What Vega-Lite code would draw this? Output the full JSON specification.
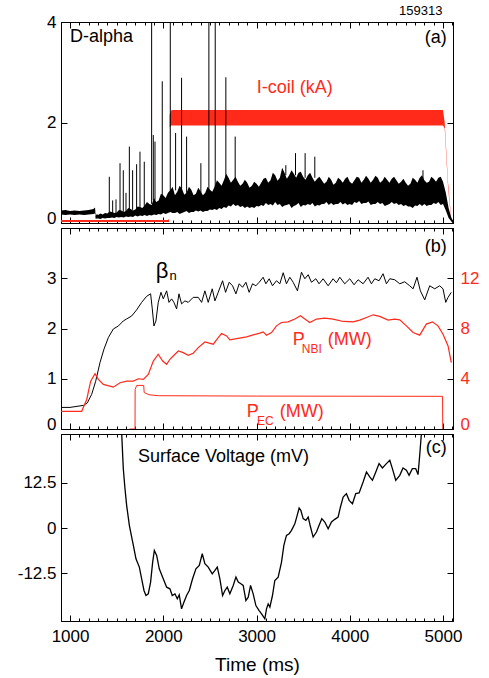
{
  "$schema": "https://vega.github.io/schema/vega-lite/v6.json",
  "padding": {"left": 16, "top": 4, "right": 8, "bottom": 6},
  "config": {
    "font": "Liberation Sans",
    "view": {"stroke": "#000", "strokeWidth": 1},
    "axis": {"grid": false, "domainColor": "#000", "tickColor": "#000", "labelColor": "#000", "labelFontSize": 17, "titleFontWeight": "normal", "domainWidth": 1, "tickWidth": 1, "labelOverlap": false, "labelBound": false},
    "concat": {"spacing": 0}
  },
  "datasets": {
    "icoil": [
      {"t": 903, "lo": 0.02, "hi": 0.06}, {"t": 2050, "lo": 0.02, "hi": 0.06}, {"t": 2062, "lo": 0.02, "hi": 0.08},
      {"t": 2068, "lo": 1.9, "hi": 2.15}, {"t": 2080, "lo": 1.94, "hi": 2.22}, {"t": 2090, "lo": 1.94, "hi": 2.25},
      {"t": 5000, "lo": 1.94, "hi": 2.25}, {"t": 5018, "lo": 1.88, "hi": 2.0}, {"t": 5054, "lo": 0.7, "hi": 0.8},
      {"t": 5089, "lo": 0.03, "hi": 0.07}, {"t": 5107, "lo": 0.0, "hi": 0.03}
    ],
    "dalpha": [
      {"t": 903, "lo": 0.17, "hi": 0.25}, {"t": 950, "lo": 0.16, "hi": 0.26}, {"t": 1000, "lo": 0.17, "hi": 0.24},
      {"t": 1050, "lo": 0.16, "hi": 0.25}, {"t": 1100, "lo": 0.17, "hi": 0.24}, {"t": 1150, "lo": 0.16, "hi": 0.25},
      {"t": 1200, "lo": 0.17, "hi": 0.26}, {"t": 1250, "lo": 0.18, "hi": 0.28}, {"t": 1268, "lo": 0.19, "hi": 0.31},
      {"t": 1275, "lo": 0.08, "hi": 0.14}, {"t": 1300, "lo": 0.09, "hi": 0.16}, {"t": 1350, "lo": 0.1, "hi": 0.17},
      {"t": 1400, "lo": 0.1, "hi": 0.19}, {"t": 1450, "lo": 0.11, "hi": 0.22}, {"t": 1500, "lo": 0.12, "hi": 0.21},
      {"t": 1550, "lo": 0.12, "hi": 0.25}, {"t": 1600, "lo": 0.13, "hi": 0.24}, {"t": 1650, "lo": 0.13, "hi": 0.28},
      {"t": 1700, "lo": 0.15, "hi": 0.27}, {"t": 1750, "lo": 0.15, "hi": 0.32}, {"t": 1800, "lo": 0.16, "hi": 0.35},
      {"t": 1850, "lo": 0.16, "hi": 0.38}, {"t": 1900, "lo": 0.17, "hi": 0.5}, {"t": 1950, "lo": 0.18, "hi": 0.45},
      {"t": 2000, "lo": 0.2, "hi": 0.55}, {"t": 2050, "lo": 0.2, "hi": 0.6}, {"t": 2100, "lo": 0.2, "hi": 0.72},
      {"t": 2150, "lo": 0.22, "hi": 0.62}, {"t": 2200, "lo": 0.2, "hi": 0.68}, {"t": 2250, "lo": 0.24, "hi": 0.6},
      {"t": 2300, "lo": 0.22, "hi": 0.66}, {"t": 2350, "lo": 0.25, "hi": 0.58}, {"t": 2400, "lo": 0.25, "hi": 0.63},
      {"t": 2450, "lo": 0.24, "hi": 0.6}, {"t": 2500, "lo": 0.27, "hi": 0.66}, {"t": 2550, "lo": 0.28, "hi": 0.72},
      {"t": 2600, "lo": 0.3, "hi": 0.8}, {"t": 2650, "lo": 0.32, "hi": 0.85}, {"t": 2700, "lo": 0.35, "hi": 0.9},
      {"t": 2750, "lo": 0.38, "hi": 0.86}, {"t": 2800, "lo": 0.36, "hi": 0.82}, {"t": 2850, "lo": 0.34, "hi": 0.78},
      {"t": 2900, "lo": 0.33, "hi": 0.8}, {"t": 2950, "lo": 0.32, "hi": 0.74}, {"t": 3000, "lo": 0.34, "hi": 0.78},
      {"t": 3050, "lo": 0.36, "hi": 0.8}, {"t": 3100, "lo": 0.4, "hi": 0.9}, {"t": 3150, "lo": 0.38, "hi": 0.85},
      {"t": 3200, "lo": 0.42, "hi": 0.95}, {"t": 3250, "lo": 0.38, "hi": 0.9}, {"t": 3300, "lo": 0.35, "hi": 1.0},
      {"t": 3350, "lo": 0.38, "hi": 0.95}, {"t": 3400, "lo": 0.34, "hi": 0.98}, {"t": 3450, "lo": 0.4, "hi": 1.0},
      {"t": 3500, "lo": 0.36, "hi": 0.92}, {"t": 3550, "lo": 0.38, "hi": 0.95}, {"t": 3600, "lo": 0.4, "hi": 0.9},
      {"t": 3650, "lo": 0.36, "hi": 0.88}, {"t": 3700, "lo": 0.38, "hi": 0.85}, {"t": 3750, "lo": 0.42, "hi": 0.82},
      {"t": 3800, "lo": 0.4, "hi": 0.86}, {"t": 3850, "lo": 0.38, "hi": 0.8}, {"t": 3900, "lo": 0.42, "hi": 0.86},
      {"t": 3950, "lo": 0.4, "hi": 0.88}, {"t": 4000, "lo": 0.38, "hi": 0.82}, {"t": 4050, "lo": 0.42, "hi": 0.85},
      {"t": 4100, "lo": 0.44, "hi": 0.9}, {"t": 4150, "lo": 0.4, "hi": 0.86}, {"t": 4200, "lo": 0.43, "hi": 0.88},
      {"t": 4250, "lo": 0.38, "hi": 0.86}, {"t": 4300, "lo": 0.42, "hi": 0.9}, {"t": 4350, "lo": 0.4, "hi": 0.84},
      {"t": 4400, "lo": 0.36, "hi": 0.86}, {"t": 4450, "lo": 0.42, "hi": 0.88}, {"t": 4500, "lo": 0.4, "hi": 0.85},
      {"t": 4550, "lo": 0.38, "hi": 0.82}, {"t": 4600, "lo": 0.36, "hi": 0.8}, {"t": 4650, "lo": 0.33, "hi": 0.78},
      {"t": 4700, "lo": 0.35, "hi": 0.86}, {"t": 4750, "lo": 0.38, "hi": 0.9}, {"t": 4800, "lo": 0.38, "hi": 0.85},
      {"t": 4850, "lo": 0.36, "hi": 0.82}, {"t": 4900, "lo": 0.4, "hi": 0.88}, {"t": 4950, "lo": 0.42, "hi": 0.9},
      {"t": 5000, "lo": 0.38, "hi": 0.82}, {"t": 5030, "lo": 0.25, "hi": 0.6}, {"t": 5060, "lo": 0.1, "hi": 0.3},
      {"t": 5090, "lo": 0.03, "hi": 0.1}, {"t": 5107, "lo": 0.0, "hi": 0.05},
      {"t": 1287, "lo": 0.09, "hi": 0.18}, {"t": 1325, "lo": 0.08, "hi": 0.19}, {"t": 1375, "lo": 0.09, "hi": 0.2},
      {"t": 1425, "lo": 0.1, "hi": 0.23}, {"t": 1475, "lo": 0.1, "hi": 0.2}, {"t": 1525, "lo": 0.11, "hi": 0.26},
      {"t": 1575, "lo": 0.11, "hi": 0.22}, {"t": 1625, "lo": 0.12, "hi": 0.3}, {"t": 1675, "lo": 0.12, "hi": 0.25},
      {"t": 1725, "lo": 0.13, "hi": 0.33}, {"t": 1775, "lo": 0.14, "hi": 0.3}, {"t": 1825, "lo": 0.14, "hi": 0.42},
      {"t": 1875, "lo": 0.15, "hi": 0.36}, {"t": 1925, "lo": 0.16, "hi": 0.42}, {"t": 1975, "lo": 0.17, "hi": 0.58},
      {"t": 2025, "lo": 0.18, "hi": 0.5}, {"t": 2075, "lo": 0.22, "hi": 0.65}, {"t": 2125, "lo": 0.2, "hi": 0.55},
      {"t": 2175, "lo": 0.18, "hi": 0.74}, {"t": 2225, "lo": 0.22, "hi": 0.56}, {"t": 2275, "lo": 0.2, "hi": 0.72},
      {"t": 2325, "lo": 0.22, "hi": 0.55}, {"t": 2375, "lo": 0.23, "hi": 0.7}, {"t": 2425, "lo": 0.22, "hi": 0.55},
      {"t": 2475, "lo": 0.24, "hi": 0.72}, {"t": 2525, "lo": 0.26, "hi": 0.62}, {"t": 2575, "lo": 0.26, "hi": 0.85},
      {"t": 2625, "lo": 0.28, "hi": 0.74}, {"t": 2675, "lo": 0.3, "hi": 0.98}, {"t": 2725, "lo": 0.33, "hi": 0.8},
      {"t": 2775, "lo": 0.34, "hi": 0.92}, {"t": 2825, "lo": 0.32, "hi": 0.74}, {"t": 2875, "lo": 0.3, "hi": 0.86},
      {"t": 2925, "lo": 0.3, "hi": 0.7}, {"t": 2975, "lo": 0.3, "hi": 0.82}, {"t": 3025, "lo": 0.33, "hi": 0.72},
      {"t": 3075, "lo": 0.34, "hi": 0.88}, {"t": 3125, "lo": 0.36, "hi": 0.8}, {"t": 3175, "lo": 0.35, "hi": 1.0},
      {"t": 3225, "lo": 0.36, "hi": 0.84}, {"t": 3275, "lo": 0.32, "hi": 1.1}, {"t": 3325, "lo": 0.36, "hi": 0.88},
      {"t": 3375, "lo": 0.3, "hi": 1.05}, {"t": 3425, "lo": 0.36, "hi": 0.9}, {"t": 3475, "lo": 0.32, "hi": 1.02},
      {"t": 3525, "lo": 0.35, "hi": 0.86}, {"t": 3575, "lo": 0.36, "hi": 1.0}, {"t": 3625, "lo": 0.33, "hi": 0.82},
      {"t": 3675, "lo": 0.35, "hi": 0.92}, {"t": 3725, "lo": 0.38, "hi": 0.78}, {"t": 3775, "lo": 0.36, "hi": 0.92},
      {"t": 3825, "lo": 0.36, "hi": 0.76}, {"t": 3875, "lo": 0.38, "hi": 0.9}, {"t": 3925, "lo": 0.37, "hi": 0.8},
      {"t": 3975, "lo": 0.36, "hi": 0.92}, {"t": 4025, "lo": 0.36, "hi": 0.78}, {"t": 4075, "lo": 0.4, "hi": 0.92},
      {"t": 4125, "lo": 0.38, "hi": 0.8}, {"t": 4175, "lo": 0.4, "hi": 0.94}, {"t": 4225, "lo": 0.36, "hi": 0.8},
      {"t": 4275, "lo": 0.38, "hi": 0.94}, {"t": 4325, "lo": 0.38, "hi": 0.8}, {"t": 4375, "lo": 0.34, "hi": 0.92},
      {"t": 4425, "lo": 0.38, "hi": 0.8}, {"t": 4475, "lo": 0.38, "hi": 0.92}, {"t": 4525, "lo": 0.36, "hi": 0.78},
      {"t": 4575, "lo": 0.34, "hi": 0.88}, {"t": 4625, "lo": 0.33, "hi": 0.74}, {"t": 4675, "lo": 0.3, "hi": 0.9},
      {"t": 4725, "lo": 0.34, "hi": 0.8}, {"t": 4775, "lo": 0.34, "hi": 0.95}, {"t": 4825, "lo": 0.34, "hi": 0.8},
      {"t": 4875, "lo": 0.36, "hi": 0.92}, {"t": 4925, "lo": 0.38, "hi": 0.82}, {"t": 4975, "lo": 0.36, "hi": 0.92}
    ],
    "spikes": [
      {"t": 1421, "b": 0.19, "p": 0.92}, {"t": 1457, "b": 0.2, "p": 0.45}, {"t": 1493, "b": 0.2, "p": 0.47},
      {"t": 1536, "b": 0.22, "p": 1.19}, {"t": 1571, "b": 0.22, "p": 1.05}, {"t": 1600, "b": 0.22, "p": 0.6},
      {"t": 1636, "b": 0.25, "p": 1.52}, {"t": 1671, "b": 0.26, "p": 1.05}, {"t": 1714, "b": 0.27, "p": 1.17},
      {"t": 1750, "b": 0.3, "p": 1.42}, {"t": 1796, "b": 0.33, "p": 1.22}, {"t": 1875, "b": 0.38, "p": 4.0},
      {"t": 1893, "b": 0.45, "p": 1.75}, {"t": 1911, "b": 0.45, "p": 1.62}, {"t": 1989, "b": 0.5, "p": 2.82},
      {"t": 2075, "b": 0.6, "p": 4.0}, {"t": 2132, "b": 0.65, "p": 1.79}, {"t": 2196, "b": 0.65, "p": 2.89},
      {"t": 2250, "b": 0.6, "p": 1.72}, {"t": 2403, "b": 0.6, "p": 1.19}, {"t": 2489, "b": 0.6, "p": 4.0},
      {"t": 2557, "b": 0.7, "p": 4.0}, {"t": 2671, "b": 0.85, "p": 2.9}, {"t": 2771, "b": 0.85, "p": 1.72},
      {"t": 3314, "b": 0.95, "p": 1.15}, {"t": 3418, "b": 0.95, "p": 1.39}, {"t": 3521, "b": 0.9, "p": 1.39},
      {"t": 3625, "b": 0.9, "p": 1.32}, {"t": 4785, "b": 0.85, "p": 1.05}
    ],
    "beta": [
      {"t": 903, "v": 0.43}, {"t": 1000, "v": 0.43}, {"t": 1143, "v": 0.47}, {"t": 1186, "v": 0.52}, {"t": 1232, "v": 0.69},
      {"t": 1275, "v": 0.95}, {"t": 1321, "v": 1.32}, {"t": 1364, "v": 1.59}, {"t": 1411, "v": 1.82}, {"t": 1464, "v": 1.99},
      {"t": 1518, "v": 2.05}, {"t": 1571, "v": 2.15}, {"t": 1607, "v": 2.19}, {"t": 1661, "v": 2.25}, {"t": 1714, "v": 2.37},
      {"t": 1768, "v": 2.52}, {"t": 1821, "v": 2.64}, {"t": 1864, "v": 2.69}, {"t": 1882, "v": 2.39}, {"t": 1900, "v": 2.05},
      {"t": 1921, "v": 2.15}, {"t": 1946, "v": 2.52}, {"t": 1975, "v": 2.72}, {"t": 2000, "v": 2.59}, {"t": 2036, "v": 2.75},
      {"t": 2061, "v": 2.52}, {"t": 2089, "v": 2.59}, {"t": 2114, "v": 2.52}, {"t": 2143, "v": 2.39}, {"t": 2168, "v": 2.69},
      {"t": 2196, "v": 2.49}, {"t": 2232, "v": 2.55}, {"t": 2268, "v": 2.52}, {"t": 2321, "v": 2.62}, {"t": 2375, "v": 2.62},
      {"t": 2411, "v": 2.52}, {"t": 2446, "v": 2.75}, {"t": 2482, "v": 2.52}, {"t": 2525, "v": 2.79}, {"t": 2554, "v": 2.55},
      {"t": 2589, "v": 2.72}, {"t": 2636, "v": 2.95}, {"t": 2668, "v": 2.72}, {"t": 2707, "v": 2.92}, {"t": 2743, "v": 2.85},
      {"t": 2779, "v": 2.69}, {"t": 2814, "v": 2.89}, {"t": 2850, "v": 2.82}, {"t": 2886, "v": 2.92}, {"t": 2921, "v": 2.72},
      {"t": 2957, "v": 2.89}, {"t": 2993, "v": 2.85}, {"t": 3028, "v": 2.92}, {"t": 3071, "v": 3.02}, {"t": 3100, "v": 2.89},
      {"t": 3136, "v": 2.99}, {"t": 3171, "v": 2.85}, {"t": 3214, "v": 2.95}, {"t": 3250, "v": 2.89}, {"t": 3286, "v": 3.11},
      {"t": 3321, "v": 2.89}, {"t": 3357, "v": 3.02}, {"t": 3393, "v": 2.92}, {"t": 3439, "v": 2.75}, {"t": 3482, "v": 3.12},
      {"t": 3518, "v": 2.99}, {"t": 3554, "v": 3.07}, {"t": 3589, "v": 2.92}, {"t": 3636, "v": 2.99}, {"t": 3671, "v": 2.89},
      {"t": 3714, "v": 2.99}, {"t": 3768, "v": 2.85}, {"t": 3821, "v": 2.99}, {"t": 3857, "v": 2.91}, {"t": 3893, "v": 3.02},
      {"t": 3946, "v": 2.89}, {"t": 4000, "v": 2.99}, {"t": 4046, "v": 2.87}, {"t": 4089, "v": 2.97}, {"t": 4143, "v": 2.89},
      {"t": 4196, "v": 3.02}, {"t": 4232, "v": 2.89}, {"t": 4268, "v": 2.99}, {"t": 4314, "v": 2.95}, {"t": 4357, "v": 3.09},
      {"t": 4393, "v": 2.89}, {"t": 4429, "v": 2.99}, {"t": 4482, "v": 2.97}, {"t": 4536, "v": 2.89}, {"t": 4589, "v": 2.93},
      {"t": 4643, "v": 2.85}, {"t": 4679, "v": 2.79}, {"t": 4721, "v": 3.02}, {"t": 4757, "v": 2.75}, {"t": 4804, "v": 2.57},
      {"t": 4857, "v": 2.85}, {"t": 4911, "v": 2.79}, {"t": 4964, "v": 2.85}, {"t": 5000, "v": 2.79}, {"t": 5029, "v": 2.52},
      {"t": 5054, "v": 2.62}, {"t": 5089, "v": 2.72}
    ],
    "pnbi": [
      {"t": 903, "v": 1.41}, {"t": 1125, "v": 1.41}, {"t": 1179, "v": 2.35}, {"t": 1221, "v": 3.81}, {"t": 1268, "v": 4.4},
      {"t": 1304, "v": 3.95}, {"t": 1357, "v": 3.55}, {"t": 1464, "v": 3.33}, {"t": 1536, "v": 3.68}, {"t": 1607, "v": 3.81},
      {"t": 1679, "v": 3.81}, {"t": 1732, "v": 4.0}, {"t": 1786, "v": 3.95}, {"t": 1839, "v": 4.35}, {"t": 1893, "v": 5.41},
      {"t": 1946, "v": 5.95}, {"t": 1993, "v": 5.41}, {"t": 2036, "v": 5.15}, {"t": 2071, "v": 5.55}, {"t": 2107, "v": 5.81},
      {"t": 2161, "v": 6.21}, {"t": 2214, "v": 6.08}, {"t": 2268, "v": 5.87}, {"t": 2321, "v": 6.03}, {"t": 2375, "v": 6.48},
      {"t": 2446, "v": 6.93}, {"t": 2493, "v": 6.83}, {"t": 2536, "v": 6.75}, {"t": 2589, "v": 7.28}, {"t": 2625, "v": 7.6},
      {"t": 2679, "v": 7.41}, {"t": 2714, "v": 7.09}, {"t": 2786, "v": 7.2}, {"t": 2893, "v": 7.33}, {"t": 2964, "v": 7.49},
      {"t": 3036, "v": 7.63}, {"t": 3071, "v": 7.73}, {"t": 3107, "v": 7.47}, {"t": 3161, "v": 7.68}, {"t": 3214, "v": 8.21},
      {"t": 3268, "v": 8.48}, {"t": 3339, "v": 8.53}, {"t": 3411, "v": 8.75}, {"t": 3471, "v": 9.01}, {"t": 3518, "v": 8.75},
      {"t": 3571, "v": 8.48}, {"t": 3643, "v": 8.75}, {"t": 3732, "v": 8.83}, {"t": 3821, "v": 8.75}, {"t": 3929, "v": 8.56},
      {"t": 4036, "v": 8.53}, {"t": 4107, "v": 8.67}, {"t": 4179, "v": 8.88}, {"t": 4250, "v": 9.09}, {"t": 4321, "v": 8.96},
      {"t": 4411, "v": 8.67}, {"t": 4482, "v": 8.75}, {"t": 4536, "v": 8.69}, {"t": 4607, "v": 8.21}, {"t": 4679, "v": 7.68},
      {"t": 4750, "v": 7.47}, {"t": 4821, "v": 8.35}, {"t": 4886, "v": 8.53}, {"t": 4946, "v": 8.21}, {"t": 5000, "v": 7.55},
      {"t": 5054, "v": 6.61}, {"t": 5089, "v": 5.28}
    ],
    "pec": [
      {"t": 1640, "v": 0}, {"t": 1697, "v": 0}, {"t": 1698, "v": 3.15}, {"t": 1715, "v": 3.47}, {"t": 1790, "v": 3.47},
      {"t": 1795, "v": 2.9}, {"t": 1850, "v": 2.72}, {"t": 1950, "v": 2.65}, {"t": 3000, "v": 2.62}, {"t": 4995, "v": 2.6},
      {"t": 4997, "v": 0}
    ],
    "sv": [
      {"t": 1530, "v": 32}, {"t": 1554, "v": 26}, {"t": 1571, "v": 16.4}, {"t": 1589, "v": 10.9}, {"t": 1607, "v": 6.25},
      {"t": 1636, "v": 0.74}, {"t": 1661, "v": -2.48}, {"t": 1679, "v": -4.78}, {"t": 1707, "v": -8.46}, {"t": 1743, "v": -10.76},
      {"t": 1768, "v": -13.98}, {"t": 1793, "v": -17.2}, {"t": 1814, "v": -18.58}, {"t": 1839, "v": -18.12}, {"t": 1864, "v": -14.9},
      {"t": 1886, "v": -9.38}, {"t": 1904, "v": -6.16}, {"t": 1929, "v": -7.54}, {"t": 1957, "v": -11.22}, {"t": 1993, "v": -13.52},
      {"t": 2036, "v": -16.28}, {"t": 2071, "v": -16.74}, {"t": 2096, "v": -18.58}, {"t": 2125, "v": -18.12}, {"t": 2150, "v": -19.5},
      {"t": 2171, "v": -18.4}, {"t": 2196, "v": -22.26}, {"t": 2221, "v": -20.42}, {"t": 2250, "v": -18.58}, {"t": 2279, "v": -17.2},
      {"t": 2314, "v": -13.98}, {"t": 2350, "v": -11.22}, {"t": 2386, "v": -10.3}, {"t": 2418, "v": -7.08}, {"t": 2446, "v": -9.84},
      {"t": 2482, "v": -10.76}, {"t": 2525, "v": -12.6}, {"t": 2554, "v": -11.68}, {"t": 2579, "v": -10.76}, {"t": 2607, "v": -13.98},
      {"t": 2636, "v": -18.58}, {"t": 2661, "v": -17.2}, {"t": 2686, "v": -16.28}, {"t": 2714, "v": -18.12}, {"t": 2750, "v": -15.82},
      {"t": 2779, "v": -13.52}, {"t": 2804, "v": -14.9}, {"t": 2832, "v": -15.36}, {"t": 2857, "v": -15.82}, {"t": 2886, "v": -19.96},
      {"t": 2911, "v": -19.04}, {"t": 2936, "v": -15.82}, {"t": 2964, "v": -18.12}, {"t": 2993, "v": -21.34}, {"t": 3028, "v": -22.72},
      {"t": 3054, "v": -23.64}, {"t": 3089, "v": -25.0}, {"t": 3107, "v": -22.26}, {"t": 3125, "v": -20.88}, {"t": 3143, "v": -21.8},
      {"t": 3171, "v": -18.58}, {"t": 3196, "v": -14.44}, {"t": 3232, "v": -13.52}, {"t": 3268, "v": -9.38}, {"t": 3293, "v": -4.78},
      {"t": 3321, "v": -2.02}, {"t": 3350, "v": -1.56}, {"t": 3375, "v": -0.64}, {"t": 3411, "v": 1.2}, {"t": 3436, "v": 3.5},
      {"t": 3457, "v": 5.52}, {"t": 3475, "v": 4.87}, {"t": 3500, "v": 2.58}, {"t": 3529, "v": 2.12}, {"t": 3554, "v": 3.04},
      {"t": 3579, "v": 0.28}, {"t": 3607, "v": -2.48}, {"t": 3643, "v": -1.1}, {"t": 3671, "v": 0.74}, {"t": 3700, "v": 2.58},
      {"t": 3732, "v": 1.66}, {"t": 3768, "v": -0.18}, {"t": 3804, "v": 1.66}, {"t": 3839, "v": 2.39}, {"t": 3875, "v": 3.04},
      {"t": 3900, "v": 5.79}, {"t": 3929, "v": 8.55}, {"t": 3964, "v": 9.47}, {"t": 3993, "v": 7.63}, {"t": 4029, "v": 6.71},
      {"t": 4064, "v": 9.47}, {"t": 4100, "v": 9.66}, {"t": 4143, "v": 12.69}, {"t": 4179, "v": 15.45}, {"t": 4214, "v": 14.07},
      {"t": 4243, "v": 13.15}, {"t": 4279, "v": 15.45}, {"t": 4314, "v": 17.75}, {"t": 4350, "v": 16.55}, {"t": 4393, "v": 17.75},
      {"t": 4429, "v": 18.67}, {"t": 4457, "v": 16.37}, {"t": 4493, "v": 13.15}, {"t": 4536, "v": 14.53}, {"t": 4571, "v": 16.55},
      {"t": 4607, "v": 15.91}, {"t": 4636, "v": 14.53}, {"t": 4671, "v": 16.37}, {"t": 4707, "v": 16.37}, {"t": 4732, "v": 14.71},
      {"t": 4750, "v": 20.05}, {"t": 4768, "v": 26}, {"t": 4790, "v": 32}
    ]
  },
  "vconcat": [
    {
      "width": 392, "height": 201,
      "title": {"text": "159313", "anchor": "end", "fontSize": 13, "fontWeight": "normal", "offset": -5, "dx": -11, "color": "#000"},
      "layer": [
        {
          "data": {"name": "icoil"},
          "mark": {"type": "area", "color": "#ff2a1a", "clip": true},
          "encoding": {
            "x": {"field": "t", "type": "quantitative", "scale": {"domain": [903, 5107], "nice": false, "zero": false},
              "axis": {"orient": "bottom", "values": [1000,1100,1200,1300,1400,1500,1600,1700,1800,1900,2000,2100,2200,2300,2400,2500,2600,2700,2800,2900,3000,3100,3200,3300,3400,3500,3600,3700,3800,3900,4000,4100,4200,4300,4400,4500,4600,4700,4800,4900,5000,5100], "labels": false, "title": null, "tickSize": {"condition": {"test": "datum.value % 1000 === 0", "value": -6}, "value": -3}}},
            "y": {"field": "lo", "type": "quantitative", "scale": {"domain": [0, 4], "nice": false, "zero": false},
              "axis": {"orient": "left", "values": [0, 2, 4], "title": null, "tickSize": -6, "labelPadding": 11, "labelBaseline": {"condition": {"test": "datum.value === 0", "value": "alphabetic"}, "value": "middle"}}},
            "y2": {"field": "hi"}
          }
        },
        {
          "data": {"name": "dalpha"},
          "mark": {"type": "area", "color": "#000", "clip": true},
          "encoding": {
            "x": {"field": "t", "type": "quantitative", "scale": {"domain": [903, 5107], "nice": false, "zero": false},
              "axis": {"orient": "top", "values": [1000,1100,1200,1300,1400,1500,1600,1700,1800,1900,2000,2100,2200,2300,2400,2500,2600,2700,2800,2900,3000,3100,3200,3300,3400,3500,3600,3700,3800,3900,4000,4100,4200,4300,4400,4500,4600,4700,4800,4900,5000,5100], "labels": false, "title": null, "tickSize": {"condition": {"test": "datum.value % 1000 === 0", "value": -6}, "value": -3}}},
            "y": {"field": "lo", "type": "quantitative", "scale": {"domain": [0, 4], "nice": false, "zero": false},
              "axis": {"orient": "right", "values": [0, 2, 4], "title": null, "labels": false, "tickSize": -6}},
            "y2": {"field": "hi"}
          }
        },
        {
          "data": {"name": "spikes"},
          "mark": {"type": "rule", "color": "#000", "strokeWidth": 1, "clip": true},
          "encoding": {
            "x": {"field": "t", "type": "quantitative", "axis": null},
            "y": {"field": "b", "type": "quantitative", "axis": null},
            "y2": {"field": "p"}
          }
        },
        {
          "data": {"values": [{"t": 1000, "v": 3.7, "label": "D-alpha"}]},
          "mark": {"type": "text", "align": "left", "baseline": "middle", "fontSize": 18, "color": "#000"},
          "encoding": {"x": {"field": "t", "type": "quantitative", "axis": null}, "y": {"field": "v", "type": "quantitative", "axis": null}, "text": {"field": "label"}}
        },
        {
          "data": {"values": [{"t": 5039, "v": 3.68, "label": "(a)"}]},
          "mark": {"type": "text", "align": "right", "baseline": "middle", "fontSize": 18, "color": "#000"},
          "encoding": {"x": {"field": "t", "type": "quantitative", "axis": null}, "y": {"field": "v", "type": "quantitative", "axis": null}, "text": {"field": "label"}}
        },
        {
          "data": {"values": [{"t": 3411, "v": 2.69, "label": "I-coil (kA)"}]},
          "mark": {"type": "text", "align": "center", "baseline": "middle", "fontSize": 18, "color": "#ff2a1a"},
          "encoding": {"x": {"field": "t", "type": "quantitative", "axis": null}, "y": {"field": "v", "type": "quantitative", "axis": null}, "text": {"field": "label"}}
        }
      ],
      "resolve": {"axis": {"x": "independent", "y": "independent"}}
    },
    {
      "width": 392, "height": 201,
      "layer": [
        {
          "data": {"name": "beta"},
          "mark": {"type": "line", "color": "#000", "strokeWidth": 1, "clip": true},
          "encoding": {
            "x": {"field": "t", "type": "quantitative", "scale": {"domain": [903, 5107], "nice": false, "zero": false},
              "axis": {"orient": "bottom", "values": [1000,1100,1200,1300,1400,1500,1600,1700,1800,1900,2000,2100,2200,2300,2400,2500,2600,2700,2800,2900,3000,3100,3200,3300,3400,3500,3600,3700,3800,3900,4000,4100,4200,4300,4400,4500,4600,4700,4800,4900,5000,5100], "labels": false, "title": null, "tickSize": {"condition": {"test": "datum.value % 1000 === 0", "value": -6}, "value": -3}}},
            "y": {"field": "v", "type": "quantitative", "scale": {"domain": [0, 4], "nice": false, "zero": false},
              "axis": {"orient": "left", "values": [0, 1, 2, 3], "title": null, "tickSize": -6, "labelPadding": 11, "labelBaseline": {"condition": {"test": "datum.value === 0", "value": "alphabetic"}, "value": "middle"}}}
          }
        },
        {
          "data": {"name": "pnbi"},
          "mark": {"type": "line", "color": "#ff2a1a", "strokeWidth": 1.2, "clip": true},
          "encoding": {
            "x": {"field": "t", "type": "quantitative", "scale": {"domain": [903, 5107], "nice": false, "zero": false},
              "axis": {"orient": "top", "values": [1000,1100,1200,1300,1400,1500,1600,1700,1800,1900,2000,2100,2200,2300,2400,2500,2600,2700,2800,2900,3000,3100,3200,3300,3400,3500,3600,3700,3800,3900,4000,4100,4200,4300,4400,4500,4600,4700,4800,4900,5000,5100], "labels": false, "title": null, "tickSize": {"condition": {"test": "datum.value % 1000 === 0", "value": -6}, "value": -3}}},
            "y": {"field": "v", "type": "quantitative", "scale": {"domain": [0, 16], "nice": false, "zero": false},
              "axis": {"orient": "right", "values": [0, 4, 8, 12], "title": null, "tickSize": -6, "labelPadding": 13, "labelColor": "#ff2a1a", "labelBaseline": {"condition": {"test": "datum.value === 0", "value": "alphabetic"}, "value": "middle"}}}
          }
        },
        {
          "data": {"name": "pec"},
          "mark": {"type": "line", "color": "#ff2a1a", "strokeWidth": 1, "clip": true},
          "encoding": {
            "x": {"field": "t", "type": "quantitative", "scale": {"domain": [903, 5107], "nice": false, "zero": false}, "axis": null},
            "y": {"field": "v", "type": "quantitative", "scale": {"domain": [0, 16], "nice": false, "zero": false}, "axis": null}
          }
        },
        {
          "data": {"values": [{"t": 1986, "v": 3.14, "label": "β"}]},
          "mark": {"type": "text", "align": "center", "baseline": "middle", "fontSize": 22, "color": "#000"},
          "encoding": {"x": {"field": "t", "type": "quantitative", "scale": {"domain": [903, 5107], "nice": false, "zero": false}, "axis": null}, "y": {"field": "v", "type": "quantitative", "scale": {"domain": [0, 4], "nice": false, "zero": false}, "axis": null}, "text": {"field": "label"}}
        },
        {
          "data": {"values": [{"t": 2104, "v": 3.04, "label": "n"}]},
          "mark": {"type": "text", "align": "center", "baseline": "middle", "fontSize": 13, "color": "#000"},
          "encoding": {"x": {"field": "t", "type": "quantitative", "scale": {"domain": [903, 5107], "nice": false, "zero": false}, "axis": null}, "y": {"field": "v", "type": "quantitative", "scale": {"domain": [0, 4], "nice": false, "zero": false}, "axis": null}, "text": {"field": "label"}}
        },
        {
          "data": {"values": [{"t": 5039, "v": 3.62, "label": "(b)"}]},
          "mark": {"type": "text", "align": "right", "baseline": "middle", "fontSize": 18, "color": "#000"},
          "encoding": {"x": {"field": "t", "type": "quantitative", "scale": {"domain": [903, 5107], "nice": false, "zero": false}, "axis": null}, "y": {"field": "v", "type": "quantitative", "scale": {"domain": [0, 4], "nice": false, "zero": false}, "axis": null}, "text": {"field": "label"}}
        },
        {
          "data": {"values": [{"t": 3389, "v": 7.08, "label": "P"}, {"t": 3764, "v": 7.08, "label": "(MW)"}, {"t": 2896, "v": 1.35, "label": "P"}, {"t": 3250, "v": 1.35, "label": "(MW)"}]},
          "mark": {"type": "text", "align": "left", "baseline": "middle", "fontSize": 18, "color": "#ff2a1a"},
          "encoding": {"x": {"field": "t", "type": "quantitative", "scale": {"domain": [903, 5107], "nice": false, "zero": false}, "axis": null}, "y": {"field": "v", "type": "quantitative", "scale": {"domain": [0, 16], "nice": false, "zero": false}, "axis": null}, "text": {"field": "label"}}
        },
        {
          "data": {"values": [{"t": 3486, "v": 6.37, "label": "NBI"}, {"t": 3004, "v": 0.64, "label": "EC"}]},
          "mark": {"type": "text", "align": "left", "baseline": "middle", "fontSize": 12, "color": "#ff2a1a"},
          "encoding": {"x": {"field": "t", "type": "quantitative", "scale": {"domain": [903, 5107], "nice": false, "zero": false}, "axis": null}, "y": {"field": "v", "type": "quantitative", "scale": {"domain": [0, 16], "nice": false, "zero": false}, "axis": null}, "text": {"field": "label"}}
        }
      ],
      "resolve": {"scale": {"y": "independent"}, "axis": {"x": "independent", "y": "independent"}}
    },
    {
      "width": 392, "height": 187,
      "layer": [
        {
          "mark": {"type": "rule", "color": "#333", "strokeWidth": 1, "strokeDash": [7, 5]},
          "encoding": {"y": {"datum": 0, "type": "quantitative", "scale": {"domain": [-25.6, 25.9], "nice": false, "zero": false}, "axis": null}}
        },
        {
          "data": {"name": "sv"},
          "mark": {"type": "line", "color": "#000", "strokeWidth": 1.3, "clip": true},
          "encoding": {
            "x": {"field": "t", "type": "quantitative", "scale": {"domain": [903, 5107], "nice": false, "zero": false},
              "axis": {"orient": "bottom", "values": [1000,1100,1200,1300,1400,1500,1600,1700,1800,1900,2000,2100,2200,2300,2400,2500,2600,2700,2800,2900,3000,3100,3200,3300,3400,3500,3600,3700,3800,3900,4000,4100,4200,4300,4400,4500,4600,4700,4800,4900,5000,5100], "labelExpr": "datum.value % 1000 === 0 ? toString(datum.value) : ''", "labelPadding": 13, "title": "Time (ms)", "titleFontSize": 19, "titlePadding": 8, "titleColor": "#000", "tickSize": {"condition": {"test": "datum.value % 1000 === 0", "value": -6}, "value": -3}}},
            "y": {"field": "v", "type": "quantitative", "scale": {"domain": [-25.6, 25.9], "nice": false, "zero": false},
              "axis": {"orient": "left", "values": [-12.5, 0, 12.5], "labelExpr": "toString(datum.value)", "title": null, "tickSize": -6, "labelPadding": 11}}
          }
        },
        {
          "data": {"values": [{"t": 1729, "v": 19.6, "label": "Surface Voltage (mV)"}]},
          "mark": {"type": "text", "align": "left", "baseline": "middle", "fontSize": 18, "color": "#000"},
          "encoding": {
            "x": {"field": "t", "type": "quantitative", "scale": {"domain": [903, 5107], "nice": false, "zero": false},
              "axis": {"orient": "top", "values": [1000,1100,1200,1300,1400,1500,1600,1700,1800,1900,2000,2100,2200,2300,2400,2500,2600,2700,2800,2900,3000,3100,3200,3300,3400,3500,3600,3700,3800,3900,4000,4100,4200,4300,4400,4500,4600,4700,4800,4900,5000,5100], "labels": false, "title": null, "tickSize": {"condition": {"test": "datum.value % 1000 === 0", "value": -6}, "value": -3}}},
            "y": {"field": "v", "type": "quantitative", "scale": {"domain": [-25.6, 25.9], "nice": false, "zero": false},
              "axis": {"orient": "right", "values": [-12.5, 0, 12.5], "labels": false, "title": null, "tickSize": -6}},
            "text": {"field": "label"}
          }
        },
        {
          "data": {"values": [{"t": 5039, "v": 22, "label": "(c)"}]},
          "mark": {"type": "text", "align": "right", "baseline": "middle", "fontSize": 18, "color": "#000"},
          "encoding": {"x": {"field": "t", "type": "quantitative", "axis": null}, "y": {"field": "v", "type": "quantitative", "axis": null}, "text": {"field": "label"}}
        }
      ],
      "resolve": {"axis": {"x": "independent", "y": "independent"}}
    }
  ]
}
